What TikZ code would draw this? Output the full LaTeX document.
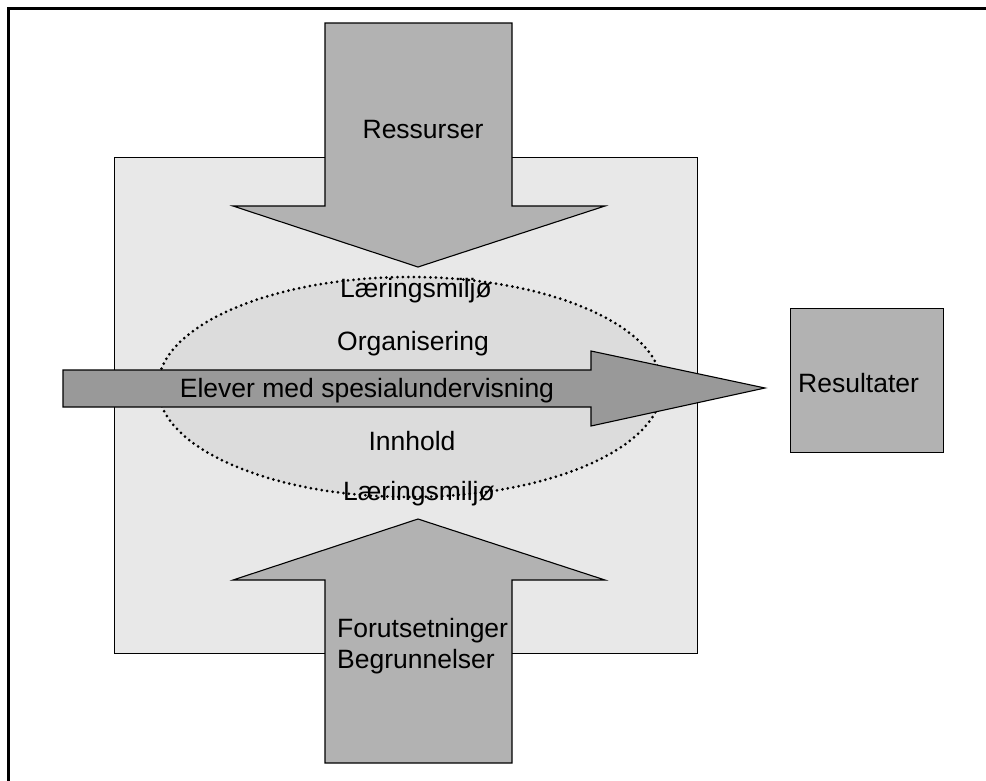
\documentclass[tikz,border=0pt]{standalone}
\usepackage{fontspec}
\setmainfont{Liberation Sans}
\usetikzlibrary{shapes.geometric}
\definecolor{boxgrey}{HTML}{E8E8E8}
\definecolor{envgrey}{HTML}{DCDCDC}
\definecolor{arrowgrey}{HTML}{B2B2B2}
\definecolor{flowgrey}{HTML}{999999}
\begin{document}
\begin{tikzpicture}[x=1pt,y=-1pt,
  lbl/.style={font=\fontsize{26.5}{32}\selectfont, inner sep=0pt},
  blockarrow/.style={fill=arrowgrey, draw=black, line width=1.1pt, line join=miter},
  flowarrow/.style={fill=flowgrey, draw=black, line width=1.1pt, line join=miter}]
\useasboundingbox (0,0) rectangle (986,780);
% frame
\draw[line width=3pt] (8,781) -- (8,8) -- (987,8);
% grey context box
\node (box) [rectangle, draw=black, fill=boxgrey, line width=1.1pt, inner sep=0pt,
  minimum width=583pt, minimum height=496pt, anchor=north west] at (114,157) {};
% top arrow (Ressurser)
\draw[blockarrow] (325,23) -- (512,23) -- (512,206) -- (605,206) -- (418,267)
  -- (233,206) -- (325,206) -- cycle;
% bottom arrow (Forutsetninger)
\draw[blockarrow] (325,763) -- (512,763) -- (512,580) -- (605,580) -- (418,519)
  -- (233,580) -- (325,580) -- cycle;
% learning environment ellipse
\node (env) [ellipse, fill=envgrey, draw=black, line width=3pt, line cap=round,
  dash pattern=on 0pt off 5.5pt, minimum width=504pt, minimum height=220pt,
  inner sep=0pt] at (410,387) {};
% flow arrow
\draw[flowarrow] (63,370) -- (591,370) -- (591,351) -- (765,388) -- (591,426)
  -- (591,407) -- (63,407) -- cycle;
% result box
\node (res) [rectangle, draw=black, fill=arrowgrey, line width=1.1pt, inner sep=0pt,
  minimum width=153pt, minimum height=144pt, anchor=north west] at (790,308) {};
% texts
\node[lbl, anchor=base] (tRes) at (423,138) {Ressurser};
\node[lbl, anchor=base] (tL1) at (416,297) {Læringsmiljø};
\node[lbl, anchor=base] (tOrg) at (413,350) {Organisering};
\node[lbl, anchor=base] (tElev) at (367,397) {Elever med spesialundervisning};
\node[lbl, anchor=base] (tInn) at (412,450) {Innhold};
\node[lbl, anchor=base] (tL2) at (419,500) {Læringsmiljø};
\node[lbl, anchor=base west] (tFor) at (337,637) {Forutsetninger};
\node[lbl, anchor=base west] (tBeg) at (337,668) {Begrunnelser};
\node[lbl, anchor=base west] (tResult) at (798,392) {Resultater};
\end{tikzpicture}
\end{document}
